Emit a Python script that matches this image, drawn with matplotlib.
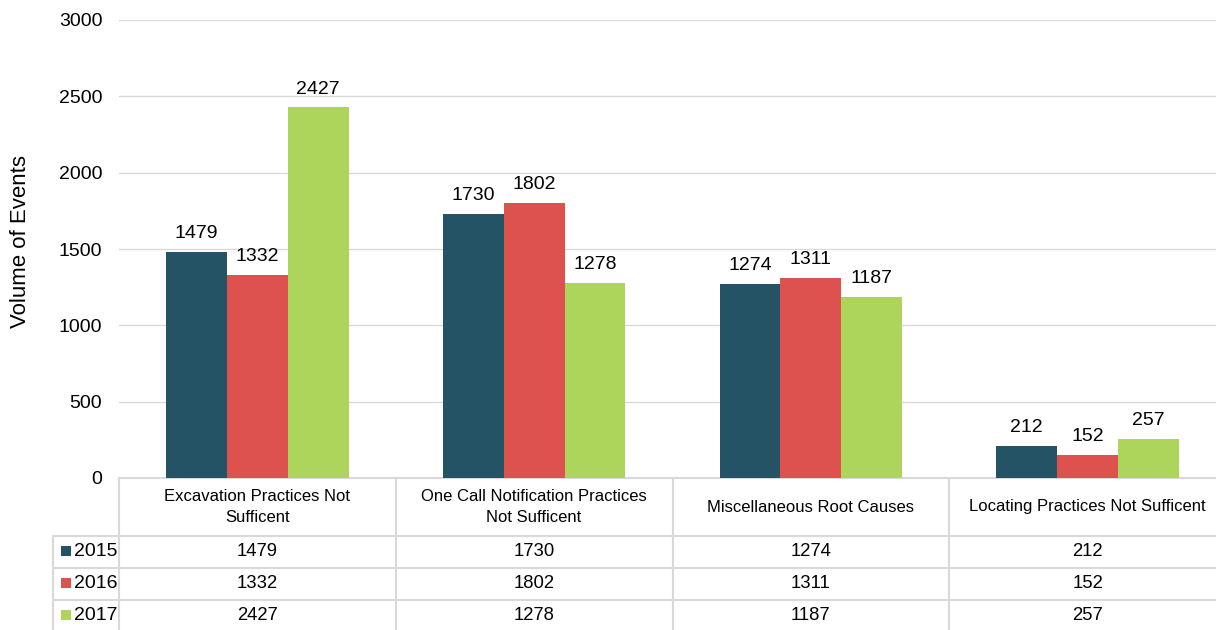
import matplotlib.pyplot as plt
import matplotlib.transforms as mtransforms
from matplotlib.patches import Rectangle
import numpy as np

plt.rcParams['font.family'] = ['Liberation Sans', 'DejaVu Sans']

# 数据
categories = ['Excavation Practices Not\nSufficent',
              'One Call Notification Practices\nNot Sufficent',
              'Miscellaneous Root Causes',
              'Locating Practices Not Sufficent']
years = ['2015', '2016', '2017']
v2015 = [1479, 1730, 1274, 212]
v2016 = [1332, 1802, 1311, 152]
v2017 = [2427, 1278, 1187, 257]
series = [v2015, v2016, v2017]
colors = ['#235364', '#DD514F', '#ADD55C']
yticks = [0, 500, 1000, 1500, 2000, 2500, 3000]

grid_c = '#d9d9d9'

fig = plt.figure(figsize=(12.16, 6.3), dpi=100)
# 坐标区右侧略超出画布
ax = fig.add_axes([119 / 1216, 152 / 630, 1107 / 1216, 458 / 630])

x = np.arange(len(categories))
w = 0.22
for i, (vals, c) in enumerate(zip(series, colors)):
    bars = ax.bar(x + (i - 1) * w, vals, width=w, color=c, zorder=3)
    ax.bar_label(bars, labels=[str(v) for v in vals], padding=7, fontsize=14)

ax.set_xlim(-0.5, len(categories) - 0.5)
ax.set_ylim(0, 3000)
ax.set_yticks(yticks)
ax.tick_params(axis='y', length=0, pad=12, labelsize=14)
ax.set_xticks([])
ax.grid(axis='y', color=grid_c, lw=1, zorder=0)
for s in ax.spines.values():
    s.set_visible(False)
fig.text(21 / 1216, 1 - 242 / 630, 'Volume of Events', rotation=90,
         ha='center', va='center', fontsize=16)

# 底部数据表格 (x 用数据坐标, y 用像素换算到坐标区比例)
tr = mtransforms.blended_transform_factory(ax.transData, ax.transAxes)


def fy(py):
    return (478 - py) / 458


px_per_unit = 1107 / len(categories)
x_lab = -0.5 - 66 / px_per_unit
x_right = len(categories) - 0.5
lk = dict(color=grid_c, lw=1.5, transform=tr, clip_on=False, zorder=1)

# 横线
ax.plot([-0.5, x_right], [fy(478), fy(478)], **lk)
for py in [536, 568, 600]:
    ax.plot([x_lab, x_right], [fy(py), fy(py)], **lk)
# 竖线
ax.plot([x_lab, x_lab], [fy(536), fy(640)], **lk)
for xb in np.arange(len(categories) + 1) - 0.5:
    ax.plot([xb, xb], [fy(478), fy(640)], **lk)

# 表头
for i, cat in enumerate(categories):
    ax.text(i, fy(507), cat, ha='center', va='center', fontsize=12,
            transform=tr, clip_on=False, linespacing=1.45)

# 数据行
row_y = [551, 583, 615]
for r, (yr, vals, c) in enumerate(zip(years, series, colors)):
    yc = fy(row_y[r])
    sq = Rectangle((x_lab + 8 / px_per_unit, yc - 5 / 458), 10 / px_per_unit, 10 / 458,
                   facecolor=c, edgecolor='none', transform=tr, clip_on=False)
    ax.add_patch(sq)
    ax.text(x_lab + 21 / px_per_unit, yc, yr, ha='left', va='center', fontsize=14,
            transform=tr, clip_on=False)
    for i, v in enumerate(vals):
        ax.text(i, yc, str(v), ha='center', va='center', fontsize=13.3,
                transform=tr, clip_on=False)

plt.savefig('out.png', dpi=100)
